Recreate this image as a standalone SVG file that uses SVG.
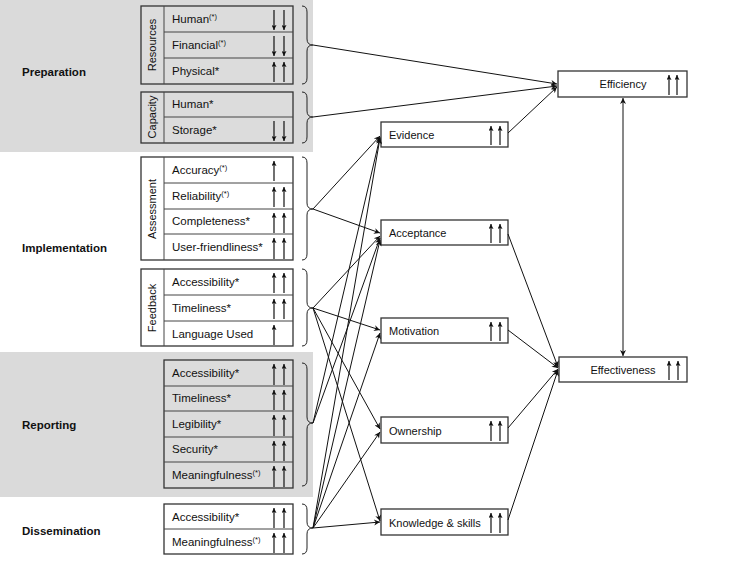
<svg xmlns="http://www.w3.org/2000/svg" width="750" height="563" viewBox="0 0 750 563">
<style>
text{font-family:"Liberation Sans",Arial,sans-serif;font-size:11px;fill:#111}
.r{font-size:11.5px}
.lbl{font-weight:bold;font-size:11.5px}
.box{stroke:#333;stroke-width:1.3}
.g{fill:#dcdcdc}
.w{fill:#fff}
.sep{stroke:#444;stroke-width:1}
.ra line{stroke:#111;stroke-width:1.2;marker-end:url(#sm)}
.br{fill:none;stroke:#222;stroke-width:1}
.cn{stroke:#111;stroke-width:1;fill:none;marker-end:url(#ah)}
.sup{font-size:7.5px}
</style>
<defs>
<marker id="ah" viewBox="0 0 10 10" refX="10" refY="5" markerWidth="9" markerHeight="6" markerUnits="userSpaceOnUse" orient="auto-start-reverse"><path d="M0,0 L10,5 L0,10 L3,5 z" fill="#111"/></marker>
<marker id="sm" viewBox="0 0 10 10" refX="10" refY="5" markerWidth="6" markerHeight="5" markerUnits="userSpaceOnUse" orient="auto"><path d="M0,0 L10,5 L0,10 L2,5 z" fill="#111"/></marker>
</defs>

<rect x="0" y="0" width="313" height="152" fill="#dadada"/>
<rect x="0" y="352" width="313" height="145" fill="#dadada"/>

<text class="lbl" x="22" y="76">Preparation</text>
<text class="lbl" x="22" y="252">Implementation</text>
<text class="lbl" x="22" y="429">Reporting</text>
<text class="lbl" x="22" y="535">Dissemination</text>

<g id="resources">
<rect class="box g" x="141" y="6" width="152" height="78"/>
<line class="sep" x1="164" y1="6" x2="164" y2="84"/>
<line class="sep" x1="164" y1="32" x2="293" y2="32"/>
<line class="sep" x1="164" y1="58" x2="293" y2="58"/>
<text transform="translate(156,45) rotate(-90)" text-anchor="middle" font-size="11.5">Resources</text>
<text class="r" x="172" y="23">Human<tspan class="sup" dy="-4">(*)</tspan></text>
<text class="r" x="172" y="49">Financial<tspan class="sup" dy="-4">(*)</tspan></text>
<text class="r" x="172" y="75">Physical*</text>
<g class="ra">
<line x1="274" y1="10" x2="274" y2="30"/><line x1="284" y1="10" x2="284" y2="30"/>
<line x1="274" y1="36" x2="274" y2="56"/><line x1="284" y1="36" x2="284" y2="56"/>
<line x1="274" y1="82" x2="274" y2="62"/><line x1="284" y1="82" x2="284" y2="62"/>
</g>
</g>
<g id="capacity">
<rect class="box g" x="141" y="92" width="152" height="51"/>
<line class="sep" x1="164" y1="92" x2="164" y2="143"/>
<line class="sep" x1="164" y1="117" x2="293" y2="117"/>
<text transform="translate(156,117) rotate(-90)" text-anchor="middle" font-size="11.5">Capacity</text>
<text class="r" x="172" y="108">Human*</text>
<text class="r" x="172" y="134">Storage*</text>
<g class="ra">
<line x1="274" y1="121" x2="274" y2="141"/><line x1="284" y1="121" x2="284" y2="141"/>
</g>
</g>

<g id="assessment">
<rect class="box w" x="141" y="157" width="152" height="103"/>
<line class="sep" x1="164" y1="157" x2="164" y2="260"/>
<line class="sep" x1="164" y1="183" x2="293" y2="183"/>
<line class="sep" x1="164" y1="209" x2="293" y2="209"/>
<line class="sep" x1="164" y1="234" x2="293" y2="234"/>
<text transform="translate(156,209) rotate(-90)" text-anchor="middle" font-size="11.5">Assessment</text>
<text class="r" x="172" y="174">Accuracy<tspan class="sup" dy="-4">(*)</tspan></text>
<text class="r" x="172" y="200">Reliability<tspan class="sup" dy="-4">(*)</tspan></text>
<text class="r" x="172" y="225">Completeness*</text>
<text class="r" x="172" y="251">User-friendliness*</text>
<g class="ra">
<line x1="274" y1="181" x2="274" y2="161"/>
<line x1="274" y1="207" x2="274" y2="187"/><line x1="284" y1="207" x2="284" y2="187"/>
<line x1="274" y1="233" x2="274" y2="213"/><line x1="284" y1="233" x2="284" y2="213"/>
<line x1="274" y1="259" x2="274" y2="238"/><line x1="284" y1="259" x2="284" y2="238"/>
</g>
</g>
<g id="feedback">
<rect class="box w" x="141" y="269" width="152" height="77"/>
<line class="sep" x1="164" y1="269" x2="164" y2="346"/>
<line class="sep" x1="164" y1="295" x2="293" y2="295"/>
<line class="sep" x1="164" y1="321" x2="293" y2="321"/>
<text transform="translate(156,308) rotate(-90)" text-anchor="middle" font-size="11.5">Feedback</text>
<text class="r" x="172" y="286">Accessibility*</text>
<text class="r" x="172" y="312">Timeliness*</text>
<text class="r" x="172" y="338">Language Used</text>
<g class="ra">
<line x1="274" y1="293" x2="274" y2="273"/><line x1="284" y1="293" x2="284" y2="273"/>
<line x1="274" y1="319" x2="274" y2="299"/><line x1="284" y1="319" x2="284" y2="299"/>
<line x1="274" y1="345" x2="274" y2="325"/>
</g>
</g>

<g id="reporting">
<rect class="box g" x="164" y="360" width="129" height="128"/>
<line class="sep" x1="164" y1="386" x2="293" y2="386"/>
<line class="sep" x1="164" y1="411" x2="293" y2="411"/>
<line class="sep" x1="164" y1="437" x2="293" y2="437"/>
<line class="sep" x1="164" y1="462" x2="293" y2="462"/>
<text class="r" x="172" y="377">Accessibility*</text>
<text class="r" x="172" y="402">Timeliness*</text>
<text class="r" x="172" y="428">Legibility*</text>
<text class="r" x="172" y="453">Security*</text>
<text class="r" x="172" y="479">Meaningfulness<tspan class="sup" dy="-4">(*)</tspan></text>
<g class="ra">
<line x1="274" y1="385" x2="274" y2="364"/><line x1="284" y1="385" x2="284" y2="364"/>
<line x1="274" y1="410" x2="274" y2="390"/><line x1="284" y1="410" x2="284" y2="390"/>
<line x1="274" y1="436" x2="274" y2="415"/><line x1="284" y1="436" x2="284" y2="415"/>
<line x1="274" y1="461" x2="274" y2="441"/><line x1="284" y1="461" x2="284" y2="441"/>
<line x1="274" y1="487" x2="274" y2="466"/><line x1="284" y1="487" x2="284" y2="466"/>
</g>
</g>
<g id="dissemination">
<rect class="box w" x="164" y="504" width="129" height="50"/>
<line class="sep" x1="164" y1="529" x2="293" y2="529"/>
<text class="r" x="172" y="521">Accessibility*</text>
<text class="r" x="172" y="546">Meaningfulness<tspan class="sup" dy="-4">(*)</tspan></text>
<g class="ra">
<line x1="274" y1="528" x2="274" y2="508"/><line x1="284" y1="528" x2="284" y2="508"/>
<line x1="274" y1="553" x2="274" y2="533"/><line x1="284" y1="553" x2="284" y2="533"/>
</g>
</g>

<g id="braces">
<path class="br" d="M302,6 Q307,6 307,12 V39 Q307,45 313,45 Q307,45 307,51 V78 Q307,84 302,84"/>
<path class="br" d="M302,92 Q307,92 307,98 V111 Q307,117 313,117 Q307,117 307,123 V137 Q307,143 302,143"/>
<path class="br" d="M302,157 Q307,157 307,163 V203 Q307,209 313,209 Q307,209 307,215 V254 Q307,260 302,260"/>
<path class="br" d="M302,269 Q307,269 307,275 V302 Q307,308 313,308 Q307,308 307,314 V340 Q307,346 302,346"/>
<path class="br" d="M302,363 Q307,363 307,369 V417 Q307,423 313,423 Q307,423 307,429 V480 Q307,486 302,486"/>
<path class="br" d="M302,504 Q307,504 307,510 V522 Q307,528 313,528 Q307,528 307,534 V548 Q307,554 302,554"/>
</g>

<g id="evidence">
<rect class="box w" x="381" y="122" width="127" height="25"/>
<text x="389" y="139">Evidence</text>
<g class="ra"><line x1="491" y1="145" x2="491" y2="126"/><line x1="500" y1="145" x2="500" y2="126"/></g>
</g>
<g id="acceptance">
<rect class="box w" x="381" y="220" width="127" height="25"/>
<text x="389" y="237">Acceptance</text>
<g class="ra"><line x1="491" y1="243" x2="491" y2="224"/><line x1="500" y1="243" x2="500" y2="224"/></g>
</g>
<g id="motivation">
<rect class="box w" x="381" y="318" width="127" height="25"/>
<text x="389" y="335">Motivation</text>
<g class="ra"><line x1="491" y1="341" x2="491" y2="322"/><line x1="500" y1="341" x2="500" y2="322"/></g>
</g>
<g id="ownership">
<rect class="box w" x="381" y="417" width="127" height="26"/>
<text x="389" y="435">Ownership</text>
<g class="ra"><line x1="491" y1="441" x2="491" y2="421"/><line x1="500" y1="441" x2="500" y2="421"/></g>
</g>
<g id="knowledge">
<rect class="box w" x="381" y="509" width="127" height="26"/>
<text x="389" y="527">Knowledge  &amp; skills</text>
<g class="ra"><line x1="491" y1="533" x2="491" y2="513"/><line x1="500" y1="533" x2="500" y2="513"/></g>
</g>
<g id="efficiency">
<rect class="box w" x="558" y="71" width="129" height="26"/>
<text x="623" y="88" text-anchor="middle">Efficiency</text>
<g class="ra"><line x1="669" y1="95" x2="669" y2="75"/><line x1="677" y1="95" x2="677" y2="75"/></g>
</g>
<g id="effectiveness">
<rect class="box w" x="559" y="357" width="128" height="25"/>
<text x="623" y="374" text-anchor="middle">Effectiveness</text>
<g class="ra"><line x1="669" y1="380" x2="669" y2="361"/><line x1="678" y1="380" x2="678" y2="361"/></g>
</g>

<g id="connectors">
<path class="cn" d="M313,45 L557,84"/>
<path class="cn" d="M313,117 L557,86"/>
<path class="cn" d="M508,133 L557,87"/>
<path class="cn" d="M313,209 L380,136"/>
<path class="cn" d="M313,209 L380,233"/>
<path class="cn" d="M313,308 L380,236"/>
<path class="cn" d="M313,308 L380,330"/>
<path class="cn" d="M313,308 L380,429"/>
<path class="cn" d="M313,308 L380,521"/>
<path class="cn" d="M313,423 L380,137"/>
<path class="cn" d="M313,423 L380,238"/>
<path class="cn" d="M313,528 L380,138"/>
<path class="cn" d="M313,528 L380,240"/>
<path class="cn" d="M313,528 L380,333"/>
<path class="cn" d="M313,528 L380,432"/>
<path class="cn" d="M313,528 L380,522"/>
<path class="cn" d="M508,234 L558,367"/>
<path class="cn" d="M508,330 L558,368"/>
<path class="cn" d="M508,428 L558,369"/>
<path class="cn" d="M508,520 L558,370"/>
<path class="cn" d="M623,98 L623,356" marker-start="url(#ah)"/>
</g>
</svg>
